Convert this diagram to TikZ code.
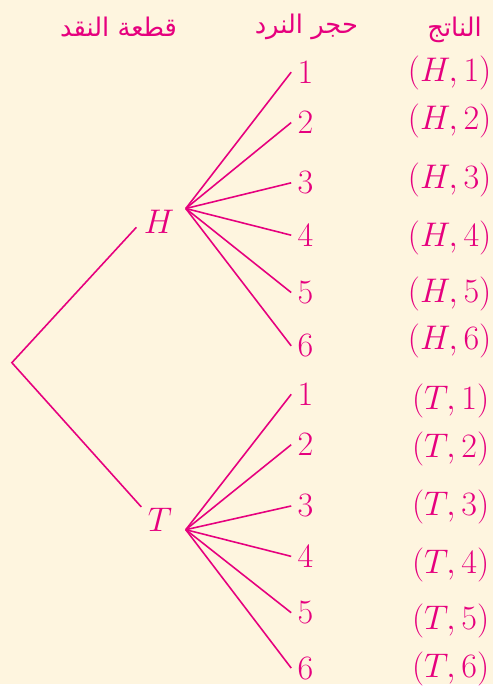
\documentclass[tikz,border=0pt]{standalone}
\usepackage{fontspec}
\usepackage{tikz}
\newfontfamily\arabicfont[Script=Arabic]{DejaVu Sans}
\TeXXeTstate=1
\definecolor{TreePink}{HTML}{E6007E}
\definecolor{TreePaper}{HTML}{FEF5DF}

\begin{document}
\begin{tikzpicture}[x=0.5pt,y=-0.5pt,
    branch/.style={TreePink,line width=0.8pt},
    lbl/.style={text=TreePink,font=\fontsize{16.5}{19}\selectfont,inner sep=3pt},
    head/.style={text=TreePink,font=\arabicfont\fontsize{13}{15}\selectfont}]
  \fill[TreePaper] (0,0) rectangle (499,692);
  % column heads
  \node[head] (coinHead) at (120,27) {\beginR قطعة النقد\endR};
  \node[head] (dieHead) at (310,27) {\beginR حجر النرد\endR};
  \node[head] (outHead) at (460,30) {\beginR الناتج\endR};
  % coin
  \coordinate (root) at (12,367);
  \node[lbl] (coinH) at (161,224) {$H$};
  \node[lbl] (coinT) at (162,526) {$T$};
  \coordinate (hIn) at (138,230);
  \coordinate (hOut) at (188,211);
  \coordinate (tIn) at (143,513);
  \coordinate (tOut) at (188,536);
  \draw[branch] (hIn) -- (root) -- (tIn);
  % die and outcomes
  \foreach \n/\yd/\yo in {1/73/74,2/124/122,3/185/182,4/238/241,5/296/297,6/350/345}{
    \node[lbl] (h\n) at (309,\yd) {$\n$};
    \node[lbl] (ho\n) at (455,\yo) {$(H,\n)$};
    \draw[branch] (hOut) -- (h\n.west);
  }
  \foreach \n/\yd/\yo in {1/399/406,2/450/454,3/512/513,4/563/572,5/620/628,6/676/677}{
    \node[lbl] (t\n) at (309,\yd) {$\n$};
    \node[lbl] (to\n) at (456,\yo) {$(T,\n)$};
    \draw[branch] (tOut) -- (t\n.west);
  }
\end{tikzpicture}
\end{document}
